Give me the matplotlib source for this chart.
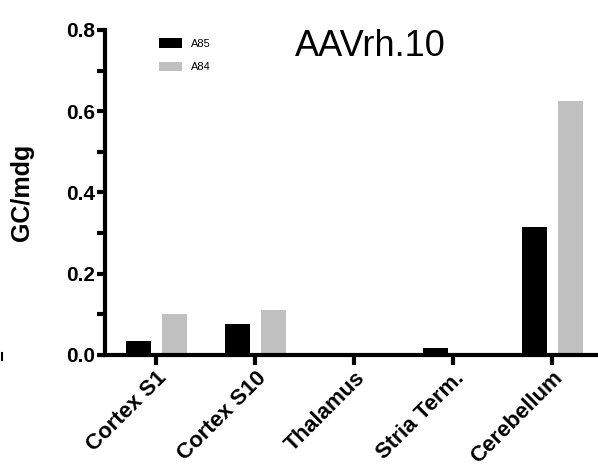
import numpy as np
import matplotlib.pyplot as plt
from matplotlib.lines import Line2D
from matplotlib.ticker import MultipleLocator

plt.rcParams['font.family'] = ['Liberation Sans', 'DejaVu Sans']

regions = ['Cortex S1', 'Cortex S10', 'Thalamus', 'Stria Term.', 'Cerebellum']
a85 = [0.034, 0.076, 0.001, 0.018, 0.315]
a84 = [0.100, 0.110, 0.001, 0.002, 0.626]
series = ['A85', 'A84']
colors = ['#000000', '#c0c0c0']

fig = plt.figure(figsize=(5.98, 4.69), dpi=100)
ax = fig.add_axes([0.1756, 0.2431, 0.8244, 0.693])

x = np.arange(len(regions))
w = 0.25
ax.bar(x - 0.185, a85, w, color=colors[0], label=series[0])
ax.bar(x + 0.185, a84, w, color=colors[1], label=series[1])

ax.set_xlim(-0.52, 4.46)
ax.set_ylim(0, 0.8)
ax.yaxis.set_major_locator(MultipleLocator(0.2))
ax.yaxis.set_minor_locator(MultipleLocator(0.1))
ax.yaxis.set_major_formatter(plt.FormatStrFormatter('%.1f'))

for s in ['top', 'right']:
    ax.spines[s].set_visible(False)
for s in ['left', 'bottom']:
    ax.spines[s].set_linewidth(3)

ax.tick_params(axis='y', which='major', length=6, width=3, labelsize=15, pad=1)
ax.tick_params(axis='y', which='minor', length=6, width=3)
ax.tick_params(axis='x', length=7, width=3, labelsize=16, pad=2)

ax.set_xticks(x)
ax.set_xticklabels(regions, rotation=45, ha='right', rotation_mode='anchor',
                   fontweight='bold')
for lbl in ax.get_yticklabels():
    lbl.set_fontweight('bold')

ax.set_ylabel('GC/mdg', fontsize=18, fontweight='bold')
ax.yaxis.set_label_coords(-0.145, 0.5)

fig.text(0.493, 0.9, 'AAVrh.10', fontsize=26, va='center', ha='left')

leg = ax.legend(loc='upper left', bbox_to_anchor=(0.09, 1.005), frameon=False,
                fontsize=8, handlelength=2.0, handleheight=0.9,
                labelspacing=1.15, handletextpad=0.8)

# stray tick mark at the left edge of the source image
fig.add_artist(Line2D([0.004, 0.004], [0.232, 0.247], color='black', lw=1.5))

fig.savefig('out.png', dpi=100)
